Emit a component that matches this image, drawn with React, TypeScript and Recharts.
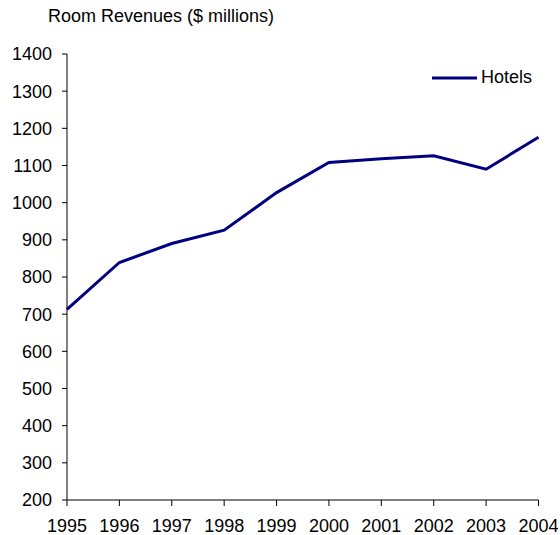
import React from 'react';
import { LineChart, Line, XAxis, YAxis, Legend } from 'recharts';

const years = ['1995', '1996', '1997', '1998', '1999', '2000', '2001', '2002', '2003', '2004'];
const hotels = [713, 839, 890, 926, 1027, 1108, 1118, 1126, 1090, 1176];
const yTicks = [200, 300, 400, 500, 600, 700, 800, 900, 1000, 1100, 1200, 1300, 1400];

const data = years.map((year, i) => ({ year, hotels: hotels[i] }));

const font = 'Arial, "Liberation Sans", sans-serif';

const renderLegend = () => (
  <div style={{ display: 'flex', alignItems: 'center', fontFamily: font, fontSize: 18, color: '#000' }}>
    <svg width={49} height={10}>
      <line x1={0} y1={5} x2={45} y2={5} stroke="#000080" strokeWidth={3} />
    </svg>
    <span>Hotels</span>
  </div>
);

const App: React.FC = () => {
  return (
    <div style={{ position: 'absolute', left: 0, top: 0, width: 560, height: 535, background: '#fff' }}>
      <div
        style={{
          position: 'absolute',
          left: 48,
          top: 6,
          fontFamily: font,
          fontSize: 18,
          color: '#000',
          whiteSpace: 'nowrap',
        }}
      >
        Room Revenues ($ millions)
      </div>
      <LineChart
        width={560}
        height={535}
        data={data}
        margin={{ top: 54, right: 21.5, left: 0, bottom: 0 }}
      >
        <XAxis
          dataKey="year"
          height={35}
          stroke="#000"
          tick={{ fill: '#000', fontSize: 18, fontFamily: font }}
          tickSize={6}
          tickMargin={13}
          interval={0}
        />
        <YAxis
          width={67}
          domain={[200, 1400]}
          ticks={yTicks}
          stroke="#000"
          tick={{ fill: '#000', fontSize: 18, fontFamily: font }}
          tickSize={5}
          tickMargin={10}
          interval={0}
        />
        <Legend
          content={renderLegend}
          layout="horizontal"
          verticalAlign="middle"
          align="center"
          wrapperStyle={{ top: 67, left: 432, width: 120 }}
        />
        <Line
          type="linear"
          dataKey="hotels"
          name="Hotels"
          stroke="#000080"
          strokeWidth={3}
          dot={false}
          isAnimationActive={false}
        />
      </LineChart>
    </div>
  );
};

export default App;
